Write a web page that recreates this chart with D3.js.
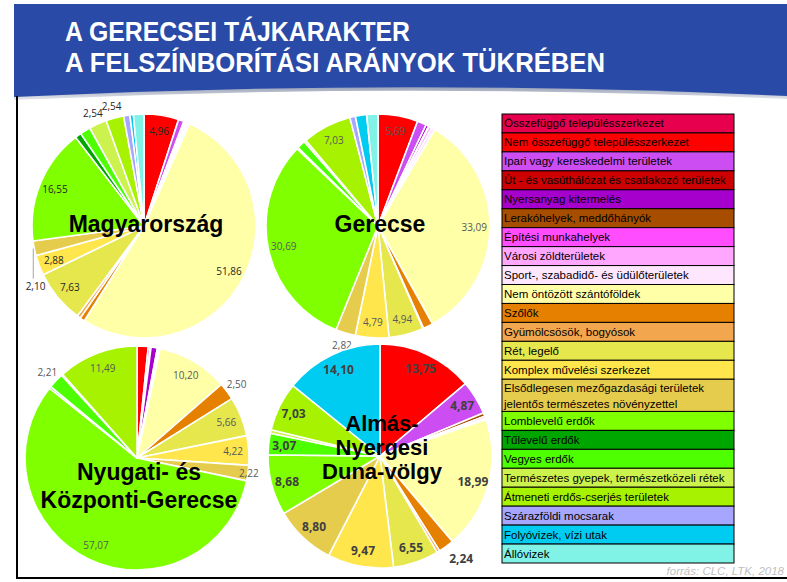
<!DOCTYPE html>
<html>
<head>
<meta charset="UTF-8">
<style>
  body { margin: 0; background: #fff; }
  svg { display: block; }
</style>
</head>
<body>
<svg width="787" height="582"></svg>
<script src="https://cdn.jsdelivr.net/npm/d3@7"></script>
<script>
let width = 787, height = 582;

// land cover classes (CLC), in legend / slice order
let categories = [
  "Összefüggő településszerkezet",
  "Nem összefüggő településszerkezet",
  "Ipari vagy kereskedelmi területek",
  "Út - és vasúthálózat és csatlakozó területek",
  "Nyersanyag kitermelés",
  "Lerakóhelyek, meddőhányók",
  "Építési munkahelyek",
  "Városi zöldterületek",
  "Sport-, szabadidő- és üdülőterületek",
  "Nem öntözött szántóföldek",
  "Szőlők",
  "Gyümölcsösök, bogyósok",
  "Rét, legelő",
  "Komplex művelési szerkezet",
  "Elsődlegesen mezőgazdasági területek|jelentős természetes növényzettel",
  "Lomblevelű erdők",
  "Tűlevelű erdők",
  "Vegyes erdők",
  "Természetes gyepek, természetközeli rétek",
  "Átmeneti erdős-cserjés területek",
  "Szárazföldi mocsarak",
  "Folyóvizek, vízi utak",
  "Állóvizek"
];

let colors = [
  "#e6004d", "#ff0000", "#cc4df2", "#cc0000", "#a600cc", "#a64d00",
  "#ff4dff", "#ffa6ff", "#ffe6ff", "#ffffa8", "#e68000", "#f2a64d",
  "#e6e64d", "#ffe64d", "#e6cc4d", "#80ff00", "#00a600", "#4dff00",
  "#ccf24d", "#a6f200", "#a6a6ff", "#00ccf2", "#80f2e6"
];

let chartNames = ["Magyarország", "Gerecse", "Nyugati- és|Központi-Gerecse", "Almás-|Nyergesi|Duna-völgy"];

// percentages per class (same order as categories)
let valuesHungary = [0, 4.96, 0.8, 0.1, 0.2, 0.05, 0.02, 0.2, 0.3, 51.86, 0.7, 0.5, 7.63, 2.88, 2.10, 16.55, 0.9, 1.5, 2.54, 2.54, 0.9, 0.5, 1.5];
let valuesGerecse = [0, 5.69, 1.3, 0, 0.4, 0.1, 0, 0.4, 0.5, 33.09, 1.4, 0.1, 4.94, 4.79, 2.82, 30.69, 0.2, 1.2, 0.3, 7.03, 0.8, 1.6, 1.6];
let valuesNyugati = [0, 1.6, 0.3, 0.1, 0.9, 0.1, 0, 0.1, 0.2, 10.20, 2.50, 0, 5.66, 4.22, 2.22, 57.07, 0.3, 2.21, 0.2, 11.49, 0, 0, 0];
let valuesAlmas = [0, 13.75, 4.87, 0, 0, 0.5, 0, 0.3, 0.2, 18.99, 2.24, 0.4, 6.55, 9.47, 8.80, 8.68, 0, 3.07, 0.5, 7.03, 0, 14.10, 0];

let titleLines = ["A GERECSEI TÁJKARAKTER", "A FELSZÍNBORÍTÁSI ARÁNYOK TÜKRÉBEN"];
let sourceNote = "forrás: CLC, LTK, 2018";

let svg = d3.select("svg");

// ---- slide background / header ----
svg.append("rect").attr("width", width).attr("height", height).attr("fill", "#fff");

let defs = svg.append("defs");
let shade = defs.append("linearGradient").attr("id", "shade").attr("x1", 0).attr("y1", 0).attr("x2", 0).attr("y2", 1);
shade.append("stop").attr("offset", "0%").attr("stop-color", "#9aa3b8");
shade.append("stop").attr("offset", "100%").attr("stop-color", "#ffffff");

svg.append("rect")
  .attr("x", 14).attr("y", 4)
  .attr("width", width - 14).attr("height", 100)
  .attr("fill", "#2a4aa8");

// white swoosh under the header
svg.append("path")
  .attr("d", "M14,104 L14,97 Q400,78 787,96 L787,104 Z")
  .attr("fill", "url(#shade)");
svg.append("path")
  .attr("d", "M14,110 L14,100 Q400,82 787,99 L787,110 Z")
  .attr("fill", "#fff");

svg.append("g")
  .selectAll("text")
  .data(titleLines)
  .join("text")
  .attr("x", 65)
  .attr("y", (d, i) => 41 + i * 31)
  .attr("textLength", (d, i) => i == 0 ? 345 : 540)
  .attr("lengthAdjust", "spacingAndGlyphs")
  .style("font-family", "'Liberation Sans Narrow', 'Liberation Sans', Arial, sans-serif")
  .style("font-weight", "bold")
  .style("font-size", "27px")
  .attr("fill", "#fff")
  .text(d => d);

// slide frame
svg.append("line").attr("x1", 17).attr("x2", 17).attr("y1", 96).attr("y2", 579)
  .attr("stroke", "#000").attr("stroke-width", 2);
svg.append("line").attr("x1", 16).attr("x2", width).attr("y1", 578).attr("y2", 578)
  .attr("stroke", "#000").attr("stroke-width", 2);

// ---- pies ----
let charts = [
  { name: chartNames[0], values: valuesHungary, cx: 144, cy: 226, nameY: [232], nameSize: 23, label: { size: 10, weight: "normal", fill: "#262626", out: 12 } },
  { name: chartNames[1], values: valuesGerecse, cx: 378, cy: 226, nameY: [232], nameSize: 23, label: { size: 10, weight: "normal", fill: "#595959", out: 12 } },
  { name: chartNames[2], values: valuesNyugati, cx: 137, cy: 458, nameY: [480, 508], nameSize: 23, label: { size: 10, weight: "normal", fill: "#595959", out: 12 } },
  { name: chartNames[3], values: valuesAlmas, cx: 380, cy: 456, nameY: [431, 455, 479], nameSize: 22, label: { size: 12, weight: "bold", fill: "#404040", out: 17 } }
];

// hand nudges for a few outside labels (Excel best-fit placement)
let labelNudge = {
  "0-14": { dx: 13, dy: 35, leader: true },
  "2-14": { dx: -11, dy: -2 },
  "3-10": { dx: 5, dy: -2 }
};

let r = 112;
let fmt = v => d3.format(".2f")(v).replace(".", ",");

let pie = d3.pie().sort(null).value(d => d.value);
let arc = d3.arc().innerRadius(0).outerRadius(r);

charts.forEach((c, ci) => {
  let data = c.values.map((v, i) => ({ value: v, cat: i }));
  let arcs = pie(data);

  let g = svg.append("g").attr("transform", "translate(" + c.cx + "," + c.cy + ")");

  g.selectAll("path")
    .data(arcs.filter(d => d.data.value > 0))
    .join("path")
    .attr("d", arc)
    .attr("fill", d => colors[d.data.cat])
    .attr("stroke", "#fff")
    .attr("stroke-width", 1.6)
    .attr("stroke-linejoin", "round");

  // value labels for slices >= 2 %
  let labelled = arcs.filter(d => d.data.value >= 2);
  labelled.forEach(d => {
    let mid = (d.startAngle + d.endAngle) / 2;
    let inside = d.data.value >= 2.85;
    let rr = inside ? r * 0.86 : r + c.label.out;
    let x = Math.sin(mid) * rr, y = -Math.cos(mid) * rr;
    let nudge = labelNudge[ci + "-" + d.data.cat];
    if (nudge) {
      x += nudge.dx; y += nudge.dy;
      if (nudge.leader) {
        let ex = Math.sin(mid) * (r + 1), ey = -Math.cos(mid) * (r + 1);
        g.append("line")
          .attr("x1", ex).attr("y1", ey)
          .attr("x2", ex).attr("y2", y - 7)
          .attr("stroke", "#a6a6a6").attr("stroke-width", 1);
      }
    }
    g.append("text")
      .attr("x", x).attr("y", y)
      .attr("text-anchor", "middle")
      .attr("dominant-baseline", "central")
      .style("font-family", "'Open Sans', Lato, sans-serif")
      .style("font-size", c.label.size + "px")
      .style("font-weight", c.label.weight)
      .attr("fill", c.label.fill)
      .text(fmt(d.data.value));
  });

  // chart name in the middle
  let lines = c.name.split("|");
  svg.append("g")
    .selectAll("text")
    .data(lines)
    .join("text")
    .attr("x", c.cx + 2)
    .attr("y", (d, i) => c.nameY[i])
    .attr("text-anchor", "middle")
    .style("font-family", "'Liberation Sans', Arial, sans-serif")
    .style("font-weight", "bold")
    .style("font-size", c.nameSize + "px")
    .attr("fill", "#000")
    .text(d => d);
});

// ---- legend ----
let legendTop = 114, legendBottom = 563, legendX = 502, legendW = 232;
let units = categories.map(c => c.includes("|") ? 1.7 : 1);
let unitH = (legendBottom - legendTop) / d3.sum(units);
let cum = 0;
let rows = categories.map((c, i) => {
  let row = { name: c, color: colors[i], y: legendTop + cum * unitH, h: units[i] * unitH };
  cum += units[i];
  return row;
});

let legend = svg.append("g");
let items = legend.selectAll("g")
  .data(rows)
  .join("g")
  .attr("transform", d => "translate(" + legendX + "," + d.y + ")");

items.append("rect")
  .attr("width", legendW)
  .attr("height", d => d.h)
  .attr("fill", d => d.color)
  .attr("stroke", "#000")
  .attr("stroke-width", 1);

items.each(function (d) {
  let parts = d.name.split("|");
  let t = d3.select(this).append("text")
    .style("font-family", "'Liberation Sans', Arial, sans-serif")
    .style("font-size", "11.5px")
    .attr("fill", "#000");
  parts.forEach((p, j) => {
    t.append("tspan")
      .attr("x", 2)
      .attr("y", parts.length == 1 ? d.h / 2 + 4 : 13 + j * 16)
      .text(p);
  });
});

// source note
svg.append("text")
  .attr("x", 784).attr("y", 575)
  .attr("text-anchor", "end")
  .style("font-family", "'Liberation Sans', Arial, sans-serif")
  .style("font-style", "italic")
  .style("font-size", "11.5px")
  .attr("fill", "#bfbfbf")
  .text(sourceNote);
</script>
</body>
</html>
